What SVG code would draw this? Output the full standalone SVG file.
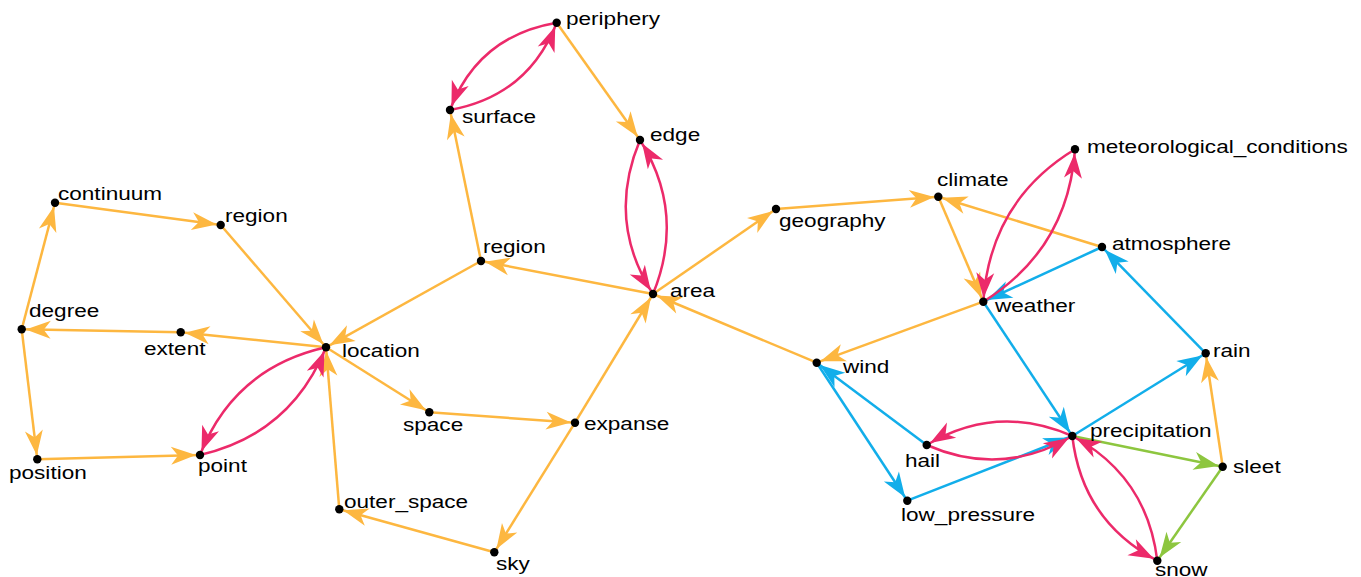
<svg xmlns="http://www.w3.org/2000/svg" width="1361" height="577" viewBox="0 0 1361 577">
  <style>
    .e { fill: none; stroke-width: 2.5; }
    .o { stroke: #FDB740; marker-end: url(#ah-o); }
    .p { stroke: #EC2A6A; marker-end: url(#ah-p); }
    .b { stroke: #12AEEA; marker-end: url(#ah-b); }
    .g { stroke: #8DC63F; marker-end: url(#ah-g); }
    .dot { fill: #000; }
    text { font-family: "Liberation Sans", Arial, Helvetica, sans-serif; font-size: 18.5px; fill: #000; }
  </style>
  <defs>
    <!-- notched arrowheads, tip stops just short of the node dot -->
    <marker id="ah-o" markerUnits="userSpaceOnUse" refX="4" refY="0" orient="auto" overflow="visible">
      <path d="M0,0 L-25,-9 L-18,0 L-25,9 Z" fill="#FDB740"/>
    </marker>
    <marker id="ah-p" markerUnits="userSpaceOnUse" refX="4" refY="0" orient="auto" overflow="visible">
      <path d="M0,0 L-25,-9 L-18,0 L-25,9 Z" fill="#EC2A6A"/>
    </marker>
    <marker id="ah-b" markerUnits="userSpaceOnUse" refX="4" refY="0" orient="auto" overflow="visible">
      <path d="M0,0 L-25,-9 L-18,0 L-25,9 Z" fill="#12AEEA"/>
    </marker>
    <marker id="ah-g" markerUnits="userSpaceOnUse" refX="4" refY="0" orient="auto" overflow="visible">
      <path d="M0,0 L-25,-9 L-18,0 L-25,9 Z" fill="#8DC63F"/>
    </marker>
  </defs>
  <rect width="1361" height="577" fill="#fff"/>

  <g id="edges">
    <!-- orange -->
    <path class="e o" d="M556.7,22.7 L640,140"/>
    <path class="e o" d="M481,261 L450,110"/>
    <path class="e o" d="M653,294 L481,261"/>
    <path class="e o" d="M481,261 L326,347.3"/>
    <path class="e o" d="M653,294 L776,209"/>
    <path class="e o" d="M776,209 L938.3,196.7"/>
    <path class="e o" d="M1102,247 L938.3,196.7"/>
    <path class="e o" d="M938.3,196.7 L983.3,301.7"/>
    <path class="e o" d="M983.3,301.7 L816.7,362.7"/>
    <path class="e o" d="M816.7,362.7 L653,294"/>
    <path class="e o" d="M575,422.7 L653,294"/>
    <path class="e o" d="M575,422.7 L494.3,552.3"/>
    <path class="e o" d="M429.3,412.3 L575,422.7"/>
    <path class="e o" d="M326,347.3 L429.3,412.3"/>
    <path class="e o" d="M326,347.3 L180.7,332.3"/>
    <path class="e o" d="M180.7,332.3 L21.7,329.3"/>
    <path class="e o" d="M21.7,329.3 L55,202.7"/>
    <path class="e o" d="M55,202.7 L220.7,225"/>
    <path class="e o" d="M220.7,225 L326,347.3"/>
    <path class="e o" d="M21.7,329.3 L37.3,459.3"/>
    <path class="e o" d="M37.3,459.3 L200,455"/>
    <path class="e o" d="M339.3,509.3 L326,347.3"/>
    <path class="e o" d="M494.3,552.3 L339.3,509.3"/>
    <path class="e o" d="M1222.7,466.7 L1205.7,353.3"/>
    <!-- blue -->
    <path class="e b" d="M1102,247 L983.3,301.7"/>
    <path class="e b" d="M983.3,301.7 L1072.3,436"/>
    <path class="e b" d="M1072.3,436 L1205.7,353.3"/>
    <path class="e b" d="M1205.7,353.3 L1102,247"/>
    <path class="e b" d="M926.7,445 L816.7,362.7"/>
    <path class="e b" d="M816.7,362.7 L907.3,500.7"/>
    <path class="e b" d="M907.3,500.7 L1072.3,436"/>
    <!-- green -->
    <path class="e g" d="M1072.3,436 L1222.7,466.7"/>
    <path class="e g" d="M1222.7,466.7 L1157.3,560.7"/>
    <!-- pink, paired both ways -->
    <path class="e p" d="M556.7,22.7 Q478,36 450,110"/>
    <path class="e p" d="M450,110 Q528,96 556.7,22.7"/>
    <path class="e p" d="M640,140 Q606,221 653,294"/>
    <path class="e p" d="M653,294 Q686,213 640,140"/>
    <path class="e p" d="M326,347.3 Q234,368 200,455"/>
    <path class="e p" d="M200,455 Q291,434 326,347.3"/>
    <path class="e p" d="M983.3,301.7 Q1068,249 1075,149.3"/>
    <path class="e p" d="M1075,149.3 Q990,201 983.3,301.7"/>
    <path class="e p" d="M1072.3,436 Q997,403 926.7,445"/>
    <path class="e p" d="M926.7,445 Q1002,478 1072.3,436"/>
    <path class="e p" d="M1072.3,436 Q1082,521 1157.3,560.7"/>
    <path class="e p" d="M1157.3,560.7 Q1147,476 1072.3,436"/>
  </g>

  <g id="n-periphery"><circle class="dot" cx="556.7" cy="22.7" r="4.2"/><text transform="translate(566 25) scale(1.22 1)">periphery</text></g>
  <g id="n-surface"><circle class="dot" cx="450" cy="110" r="4.2"/><text transform="translate(462 123) scale(1.22 1)">surface</text></g>
  <g id="n-edge"><circle class="dot" cx="640" cy="140" r="4.2"/><text transform="translate(650 141) scale(1.22 1)">edge</text></g>
  <g id="n-region-area"><circle class="dot" cx="481" cy="261" r="4.2"/><text transform="translate(483 253) scale(1.22 1)">region</text></g>
  <g id="n-area"><circle class="dot" cx="653" cy="294" r="4.2"/><text transform="translate(670 297) scale(1.22 1)">area</text></g>
  <g id="n-geography"><circle class="dot" cx="776" cy="209" r="4.2"/><text transform="translate(779 227) scale(1.22 1)">geography</text></g>
  <g id="n-climate"><circle class="dot" cx="938.3" cy="196.7" r="4.2"/><text transform="translate(937 186) scale(1.22 1)">climate</text></g>
  <g id="n-meteorological_conditions"><circle class="dot" cx="1075" cy="149.3" r="4.2"/><text transform="translate(1087 153) scale(1.22 1)">meteorological_conditions</text></g>
  <g id="n-atmosphere"><circle class="dot" cx="1102" cy="247" r="4.2"/><text transform="translate(1112 250) scale(1.22 1)">atmosphere</text></g>
  <g id="n-weather"><circle class="dot" cx="983.3" cy="301.7" r="4.2"/><text transform="translate(995 312) scale(1.22 1)">weather</text></g>
  <g id="n-wind"><circle class="dot" cx="816.7" cy="362.7" r="4.2"/><text transform="translate(843 373) scale(1.22 1)">wind</text></g>
  <g id="n-rain"><circle class="dot" cx="1205.7" cy="353.3" r="4.2"/><text transform="translate(1213 357) scale(1.22 1)">rain</text></g>
  <g id="n-precipitation"><circle class="dot" cx="1072.3" cy="436" r="4.2"/><text transform="translate(1090 437) scale(1.22 1)">precipitation</text></g>
  <g id="n-hail"><circle class="dot" cx="926.7" cy="445" r="4.2"/><text transform="translate(905 467) scale(1.22 1)">hail</text></g>
  <g id="n-sleet"><circle class="dot" cx="1222.7" cy="466.7" r="4.2"/><text transform="translate(1233 473) scale(1.22 1)">sleet</text></g>
  <g id="n-low_pressure"><circle class="dot" cx="907.3" cy="500.7" r="4.2"/><text transform="translate(901 521) scale(1.22 1)">low_pressure</text></g>
  <g id="n-snow"><circle class="dot" cx="1157.3" cy="560.7" r="4.2"/><text transform="translate(1155 576) scale(1.22 1)">snow</text></g>
  <g id="n-continuum"><circle class="dot" cx="55" cy="202.7" r="4.2"/><text transform="translate(58 200) scale(1.22 1)">continuum</text></g>
  <g id="n-region-location"><circle class="dot" cx="220.7" cy="225" r="4.2"/><text transform="translate(225 222) scale(1.22 1)">region</text></g>
  <g id="n-degree"><circle class="dot" cx="21.7" cy="329.3" r="4.2"/><text transform="translate(29 317) scale(1.22 1)">degree</text></g>
  <g id="n-extent"><circle class="dot" cx="180.7" cy="332.3" r="4.2"/><text transform="translate(144 355) scale(1.22 1)">extent</text></g>
  <g id="n-location"><circle class="dot" cx="326" cy="347.3" r="4.2"/><text transform="translate(342 357) scale(1.22 1)">location</text></g>
  <g id="n-position"><circle class="dot" cx="37.3" cy="459.3" r="4.2"/><text transform="translate(9 479) scale(1.22 1)">position</text></g>
  <g id="n-point"><circle class="dot" cx="200" cy="455" r="4.2"/><text transform="translate(198 472) scale(1.22 1)">point</text></g>
  <g id="n-space"><circle class="dot" cx="429.3" cy="412.3" r="4.2"/><text transform="translate(403 431) scale(1.22 1)">space</text></g>
  <g id="n-expanse"><circle class="dot" cx="575" cy="422.7" r="4.2"/><text transform="translate(584 430) scale(1.22 1)">expanse</text></g>
  <g id="n-outer_space"><circle class="dot" cx="339.3" cy="509.3" r="4.2"/><text transform="translate(344 508) scale(1.22 1)">outer_space</text></g>
  <g id="n-sky"><circle class="dot" cx="494.3" cy="552.3" r="4.2"/><text transform="translate(496 570) scale(1.22 1)">sky</text></g>
</svg>
